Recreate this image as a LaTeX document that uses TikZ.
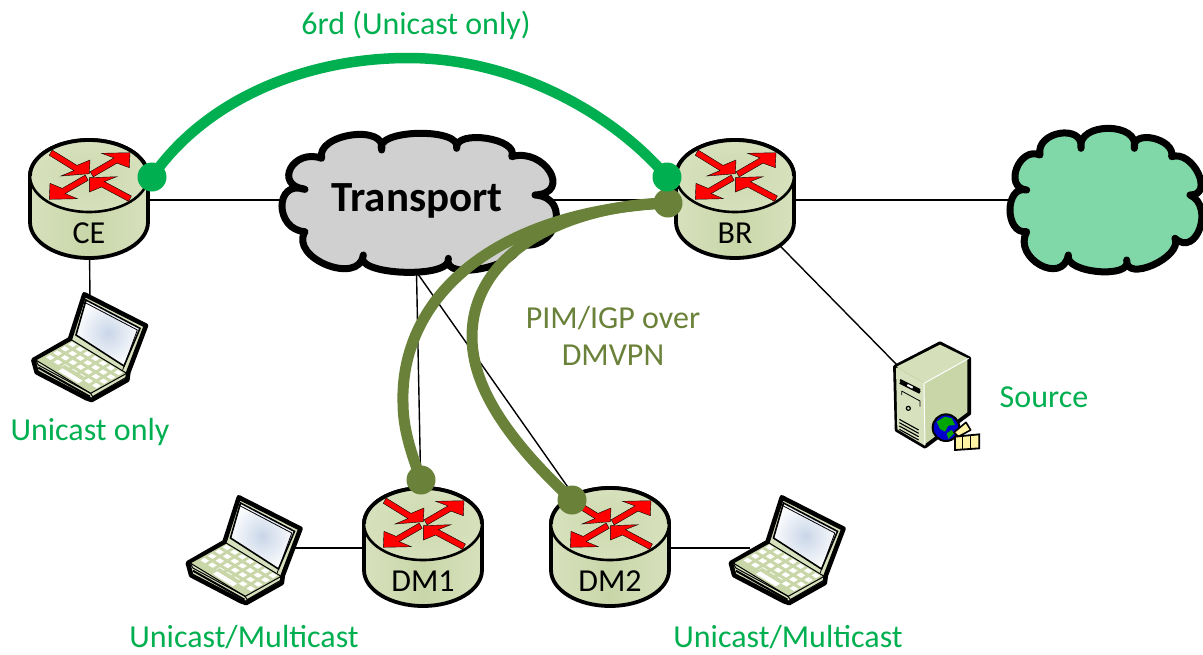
\documentclass[tikz,border=0pt]{standalone}
\usepackage{fontspec}
\setmainfont{Carlito}
\usetikzlibrary{calc}
\definecolor{rlight}{HTML}{D7E1BD}
\definecolor{rmid}{HTML}{C9D6A8}
\definecolor{gline}{HTML}{00B050}
\definecolor{oline}{HTML}{6A8139}
\definecolor{cgreen}{HTML}{80D8A8}
\definecolor{cgray}{HTML}{D0D0D0}
\definecolor{screenb}{HTML}{C9D6E8}
\definecolor{folder}{HTML}{FFF4A3}
\tikzset{
  link/.style={draw=black,line width=1.4pt},
  outl/.style={draw=black,line width=3.8pt,line join=round},
  arrowr/.style={fill=red,draw=black,line width=.4pt,line join=miter},
  greenlink/.style={draw=gline,line width=10.5pt},
  olivelink/.style={draw=oline,line width=11pt},
  gdot/.style={fill=gline,circle,minimum size=29pt,inner sep=0pt},
  odot/.style={fill=oline,circle,minimum size=29pt,inner sep=0pt},
  lab/.style={font=\fontsize{32}{37}\selectfont,align=center,inner sep=0pt},
  rlab/.style={font=\fontsize{32}{37}\selectfont,inner sep=0pt,text=black},
}
\newcommand{\lobe}[3]{.. controls ($0.433*(#1)-0.767*(#3)+1.333*(#2)$) and ($0.433*(#3)-0.767*(#1)+1.333*(#2)$) .. (#3)}
\newcommand{\routerpic}[4]{%
 \begin{scope}[shift={(#2,#3)}]
  \path[outl,left color=rlight,right color=rlight,middle color=rmid]
    (-59,0) -- (-59,46) arc[start angle=180,end angle=360,x radius=59pt,y radius=36pt]
    -- (59,0) arc[start angle=0,end angle=180,x radius=59pt,y radius=36pt] -- cycle;
  \path[draw=black,line width=2.6pt,inner color=rmid!70!rlight,outer color=rlight]
    (0,0) ellipse[x radius=59pt,y radius=36pt];
  \path[draw=black,line width=3.8pt] (-59,0) arc[start angle=180,end angle=0,x radius=59pt,y radius=36pt];
  \path[arrowr] (-39.7,-20.7)--(-15,-5.4)--(-28,0)--(.3,-2.3)--(1,-16)--(-12,-10.6)--(-36.9,-26)--cycle;
  \path[arrowr] (1.2,-4.3)--(25,-18.1)--(12.7,-22.7)--(41,-23.3)--(40.3,-8.3)--(28,-12.9)--(4.2,.9)--cycle;
  \path[arrowr] (-.8,4.3)--(-23.8,17.6)--(-11.7,22.7)--(-39.7,23.3)--(-39,7.3)--(-26.8,12.4)--(-3.8,-.9)--cycle;
  \path[arrowr] (42.4,20)--(15.4,5.6)--(27.7,.7)--(.3,1.7)--(.3,16)--(12.6,11)--(39.6,25.4)--cycle;
  \node[rlab] (#1) at (0,57) {#4};
 \end{scope}}
\newcommand{\laptoppic}[2]{%
 \begin{scope}[shift={(#1,#2)},scale=1/3]
  \path[draw=black,line width=4.6pt,line join=round,fill=rlight]
    (193,28)--(378,122)--(325,262)--(322,285)--(215,345)--(200,340)--(50,262)--(40,225)--(150,162)--cycle;
  \path[draw=black,line width=1pt,fill=rmid] (155,165)--(320,265)--(212,325)--(47,225)--cycle;
  \path[draw=black,line width=1pt] (47,225)--(55,240)--(212,325)--(218,335)--(322,275);
  \path[draw=black,line width=2pt] (55,248)--(210,335);
  \path[draw=black,line width=1.6pt,inner color=screenb,outer color=white!92!screenb]
    (198,45)--(360,130)--(312,243)--(168,150)--cycle;
  \path[draw=black,line width=.8pt] (190,50)--(352,135)--(308,255);
  \foreach \r in {0,...,3}{\foreach \c in {0,...,6}{
    \path[fill=white] ($(152,178)+\c*(23,14)+\r*(-22,13)+(-8,0)$) -- ++(12,-7.5) -- ++(14,8.5) -- ++(-12,7.5) -- cycle;
  }}
  \path[fill=rmid] (115,250)--(135,240)--(200,280)--(180,295)--cycle;
  \path[fill=white] (115,258)--(128,250)--(188,287)--(175,295)--cycle;
 \end{scope}}
\begin{document}
\begin{tikzpicture}[x=1pt,y=-1pt]
\useasboundingbox[fill=white] (0,0) rectangle (1203,654);
% anchors of the connectors
\coordinate (ce) at (89,200);
\coordinate (br) at (735,200);
\coordinate (transport) at (416,200);
\coordinate (tbottom) at (416.5,272);
\coordinate (world) at (1100,200);
\coordinate (dmone) at (422,548);
\coordinate (dmtwo) at (610,548);
\coordinate (dmtwoport) at (572,493);
\coordinate (lapce) at (90,300);
\coordinate (lapone) at (280,548);
\coordinate (laptwo) at (750,548);
\coordinate (server) at (900,368);
\coordinate (ceg) at (152,177);
\coordinate (brg) at (667,177);
\coordinate (bro) at (668,203);
\coordinate (dmoneo) at (421,480);
\coordinate (dmtwoo) at (572,500);
% thin links
\draw[link] (ce) -- (transport);
\draw[link] (transport) -- (br);
\draw[link] (br) -- (world);
\draw[link] (ce) -- (lapce);
\draw[link] (br) -- (server);
\draw[link] (tbottom) -- (dmone);
\draw[link] (tbottom) -- (dmtwoport);
\draw[link] (lapone) -- (dmone);
\draw[link] (dmtwo) -- (laptwo);
% transport cloud
\begin{scope}[shift={(270,130)},scale=1/3]
 \path[draw=black,line width=7pt,fill=cgray,line join=round]
  (105,178) \lobe{105,178}{62,115}{155,85} \lobe{155,85}{245,15}{335,60}
  \lobe{335,60}{445,10}{560,55} \lobe{560,55}{650,25}{725,80}
  \lobe{725,80}{840,125}{795,195} \lobe{795,195}{855,285}{745,340}
  \lobe{745,340}{640,415}{535,385} \lobe{535,385}{400,427}{280,375}
  \lobe{280,375}{170,405}{105,305} \lobe{105,305}{36,228}{105,178} -- cycle;
\end{scope}
\node[inner sep=0pt,font=\fontsize{43}{48}\selectfont\bfseries] (tlabel) at (417,201) {Transport};
% green cloud
\begin{scope}[shift={(1000,115)},scale=1/3]
 \path[draw=black,line width=7pt,fill=cgreen,line join=round]
  (80,225) \lobe{80,225}{50,160}{120,120} \lobe{120,120}{180,55}{243,100}
  \lobe{243,100}{325,40}{403,100} \lobe{403,100}{460,70}{515,125}
  \lobe{515,125}{595,175}{570,240} \lobe{570,240}{600,340}{525,370}
  \lobe{525,370}{460,450}{380,435} \lobe{380,435}{295,470}{205,420}
  \lobe{205,420}{120,450}{80,350} \lobe{80,350}{30,285}{80,225} -- cycle;
\end{scope}
% routers
\routerpic{celabel}{89}{176}{CE}
\routerpic{brlabel}{735}{176}{BR}
\routerpic{dmonelabel}{423}{524}{DM1}
\routerpic{dmtwolabel}{610}{524}{DM2}
% laptops
\laptoppic{20}{285}
\laptoppic{174.5}{488}
\laptoppic{717.5}{488}
% server
\begin{scope}[shift={(880,335)},scale=1/3]
 \path[outl,fill=rmid] (45,95)--(180,25)--(268,70)--(268,235)--(135,335)--(50,285)--cycle;
 \path[fill=rlight] (48,98)--(132,145)--(135,332)--(52,283)--cycle;
 \path[fill=rlight!85!rmid] (50,95)--(180,29)--(264,70)--(132,142)--cycle;
 \path[draw=white,line width=1pt] (132,145)--(266,70) (132,145)--(135,330);
 \path[draw=black,line width=2.2pt] (60,135)--(120,165);
 \path[draw=black,line width=3pt] (60,142)--(120,172);
 \path[draw=white,line width=2pt] (82,150)--(98,158);
 \path[draw=black,line width=.8pt] (65,168)--(65,180) (65,168)--(120,198)--(120,215);
 \path[draw=black,line width=1.2pt] (85,220) circle[radius=6pt];
 \foreach \v in {0,1,2,3}{\path[draw=black,line width=1.1pt] ($(58,253)+\v*(0,10)$) -- ++(58,32);}
 % globe
 \path[draw=black,line width=2pt,fill=blue!80!black] (198,278) circle[radius=40pt];
 \path[fill=green!65!black] (170,260)--(195,245)--(215,250)--(225,270)--(205,272)--(195,290)--(180,282)--cycle;
 \path[fill=green!65!black] (200,295)--(215,285)--(222,295)--(205,312)--cycle;
 % package
 \path[draw=black,line width=1.6pt,fill=folder,line join=round] (222,292)--(258,262)--(272,285)--(235,305)--cycle;
 \path[draw=black,line width=1.8pt,fill=folder] (225,305)--(298,298)--(298,340)--(225,345)--cycle;
 \path[draw=black,line width=1.2pt] (248,303)--(248,344) (272,300)--(272,342);
\end{scope}
% tunnels
\draw[olivelink] (bro) .. controls (490,212) and (400,300) .. (403,403) .. controls (403,430) and (412,455) .. (dmoneo);
\draw[olivelink] (bro) .. controls (570,205) and (472,250) .. (472,337) .. controls (472,400) and (530,460) .. (dmtwoo);
\draw[greenlink] (ceg) .. controls (205,100) and (305,58) .. (408,58) .. controls (510,58) and (610,110) .. (brg);
\node[odot] (brodot) at (bro) {};
\node[odot] (dmonedot) at (dmoneo) {};
\node[odot] (dmtwodot) at (dmtwoo) {};
\node[gdot] (cedot) at (ceg) {};
\node[gdot] (brdot) at (brg) {};
% labels
\node[lab,text=gline] (sixrd) at (416,25) {6rd (Unicast only)};
\node[lab,text=gline] (uonly) at (90,432) {Unicast only};
\node[lab,text=gline] (src) at (1044,397) {Source};
\node[lab,text=oline] (pim) at (613,336) {PIM/IGP over\\DMVPN};
\node[lab,text=gline] (um1) at (244,637) {Unicast/Multicast};
\node[lab,text=gline] (um2) at (788,637) {Unicast/Multicast};
\end{tikzpicture}
\end{document}
